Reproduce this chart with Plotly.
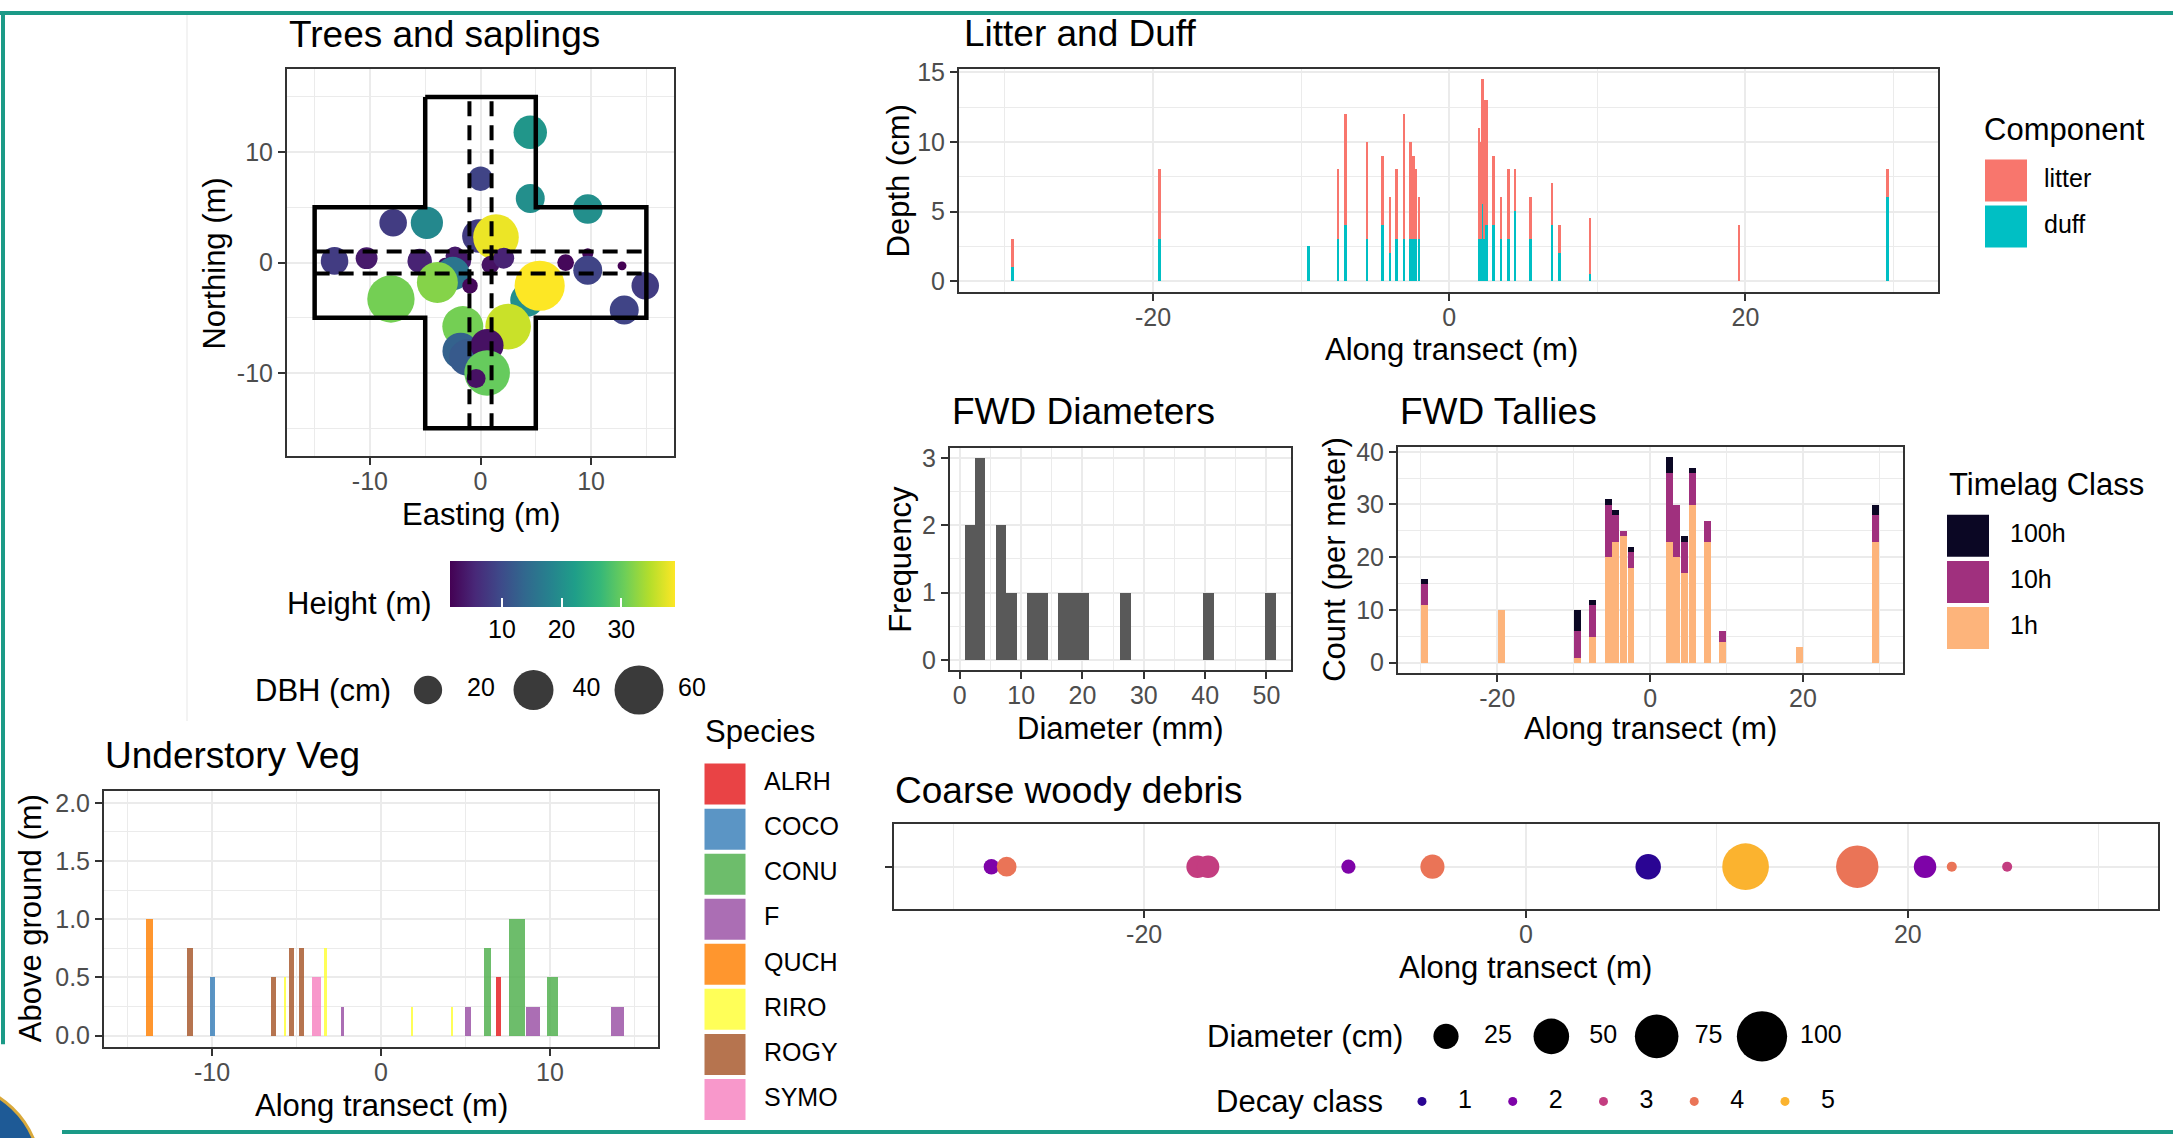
import plotly.graph_objects as go

W, H = 2173, 1138
# measured vertical mapping of the photographed page: screen_y = YS * fig_y + YO
YS, YO = 0.9858, 10.7
FONT = "Liberation Sans, Arial, Helvetica, sans-serif"
TICKC, GRIDC, BORDC = "#4D4D4D", "#EBEBEB", "#333333"
TEAL = "#1B9A87"
TS, AS, KS = 37, 31, 25  # title, axis-title, tick/legend-label font sizes

# ---------------- data: Trees and saplings ----------------
tree_east = [4.5, 0.0, 4.5, 9.7, -7.9, -4.85, -0.15, 1.4, -13.2, -10.3, -5.5, -2.3,
             -1.7, -3.2, 0.9, 2.1, -2.5, -3.9, -8.1, -0.95, 4.2, 5.35, 7.7, 9.7,
             9.7, 12.8, 14.9, 13.0, 2.5, -1.6, -1.8, -1.2, 0.6, 0.6, -0.4]
tree_north = [11.8, 7.6, 5.8, 4.85, 3.6, 3.6, 2.4, 2.3, 0.15, 0.4, 0.15, 0.6,
              0.15, -0.2, -0.2, 0.4, -1.0, -1.8, -3.3, -2.1, -3.4, -2.1, 0.0, 0.8,
              -0.7, -0.3, -2.1, -4.3, -5.8, -5.8, -8.0, -8.6, -7.5, -10.0, -10.5]
tree_height = [21, 9, 20, 20, 8, 19, 8, 38, 8, 4, 5, 4,
               4, 3, 3, 5, 16, 32, 31, 2, 20, 39, 2, 2,
               9, 1.3, 8, 9, 36, 31, 13, 12, 3, 30, 3]
tree_dbh = [28, 15, 21, 22, 19, 26, 28, 52, 19, 12, 15, 9,
            9, 5, 8, 11, 28, 42, 56, 6, 28, 63, 7, 3,
            21, 2, 19, 21, 52, 42, 33, 33, 27, 52, 9]
plot_outline_e = [-5, 5, 5, 15, 15, 5, 5, -5, -5, -15, -15, -5, -5]
plot_outline_n = [15, 15, 5, 5, -5, -5, -15, -15, -5, -5, 5, 5, 15]
strip_offsets = [-1, 1]
strip_extent = [-15, 15]
dbh_legend = [20, 40, 60]
height_ticks = [10, 20, 30]

# ---------------- data: Litter and duff ----------------
ld_pos = [-29.5, -19.55, -9.5, -7.5, -7.0, -5.55, -4.5, -4.0, -3.55, -3.05, -2.6, -2.4,
          -2.25, -2.05, 2.0, 2.1, 2.25, 2.35, 2.5, 3.0, 3.5, 4.0, 4.45, 5.5, 6.95,
          7.45, 9.5, 19.55, 29.6]
duff_depth = [1, 3, 2.5, 3, 4, 3, 4, 2, 3, 3, 3, 3,
              3, 3, 3, 3, 5.5, 3, 4, 4, 3, 3, 5, 3, 4,
              2, 0.5, 0, 6]
litter_depth = [2, 5, 0, 5, 8, 7, 5, 4, 5, 9, 7, 6,
                5, 3, 8, 7, 9, 10, 9, 5, 3, 5, 3, 3, 3,
                2, 4, 4, 2]
components = ["litter", "duff"]
component_colors = ["#F8766D", "#00BFC4"]

# ---------------- data: FWD ----------------
fwd_diam_mm = [1.65, 2.0, 3.0, 3.2, 4.0, 6.0, 7.0, 8.0, 12.0, 13.5, 17.0, 18.5,
               20.0, 27.0, 40.5, 50.67]
fwd_pos = [-29.5, -19.5, -9.5, -7.5, -5.5, -4.5, -3.5, -2.5, 2.5, 3.5, 4.5, 5.5,
           7.5, 9.5, 19.5, 29.5]
fwd_1h = [11, 10, 1, 5, 20, 23, 24, 18, 23, 20, 17, 30, 23, 4, 3, 23]
fwd_10h = [4, 0, 5, 6, 10, 5, 1, 3, 13, 10, 6, 6, 4, 2, 0, 5]
fwd_100h = [1, 0, 4, 1, 1, 1, 0, 1, 3, 0, 1, 1, 0, 0, 0, 2]
timelag_classes = ["100h", "10h", "1h"]
timelag_colors = ["#0B0724", "#A0307E", "#FDB47B"]

# ---------------- data: Understory veg ----------------
veg_pos = [-13.7, -11.3, -10.0, -6.35, -5.7, -5.3, -4.7, -3.8, -3.3, -2.3, 1.85,
           4.2, 5.15, 6.3, 6.95, 8.05, 9.0, 10.15, 14.0]
veg_height = [1.0, 0.75, 0.5, 0.5, 0.5, 0.75, 0.75, 0.5, 0.75, 0.25, 0.25,
              0.25, 0.25, 0.75, 0.5, 1.0, 0.25, 0.5, 0.25]
veg_species = ["QUCH", "ROGY", "COCO", "ROGY", "RIRO", "ROGY", "ROGY", "SYMO", "RIRO",
               "F", "RIRO", "RIRO", "F", "CONU", "ALRH", "CONU", "F", "CONU", "F"]
veg_bar_width = [0.42, 0.35, 0.3, 0.3, 0.12, 0.3, 0.28, 0.53, 0.2, 0.18, 0.1,
                 0.1, 0.3, 0.4, 0.3, 0.9, 0.85, 0.7, 0.8]
species = ["ALRH", "COCO", "CONU", "F", "QUCH", "RIRO", "ROGY", "SYMO"]
species_colors = ["#E41A1C", "#377EB8", "#4DAF4A", "#984EA3", "#FF7F00", "#FFFF33",
                  "#A65628", "#F781BF"]

# ---------------- data: Coarse woody debris ----------------
cwd_pos = [-28.0, -27.2, -17.2, -16.65, -9.3, -4.9, 6.4, 11.5, 17.35, 20.9, 22.3, 25.2]
cwd_diam = [9.5, 15.5, 20, 20, 8, 23, 25.6, 86, 71, 20, 4, 4]
cwd_decay = [2, 4, 3, 3, 2, 4, 1, 5, 4, 2, 4, 3]
cwd_diam_legend = [25, 50, 75, 100]
decay_classes = [1, 2, 3, 4, 5]
decay_colors = ["#2A0593", "#7E03A8", "#C33D80", "#EA7457", "#FBB32F"]

TREE_SREF = 0.05
CWD_SREF = 0.079


def fx(p):
    return p / W


def fy(p):
    return min(1.0, max(0.0, 1 - ((p - YO) / YS) / H))


def hy(v):
    return "%g" % v   # ASCII hyphen for negatives, like ggplot


fig = go.Figure()
layout = {}


def sfx(n):
    return "" if n == 1 else str(n)


def panel(n, xpx, ypx, xr, yr, xt, yt, xminor, yminor, yfmt=None, ycat=False):
    common = dict(showline=True, mirror=True, linecolor=BORDC, linewidth=2,
                  ticks="outside", ticklen=7, tickwidth=2, tickcolor=BORDC,
                  tickfont=dict(family=FONT, size=KS, color=TICKC),
                  showgrid=True, gridcolor=GRIDC, gridwidth=2, zeroline=False,
                  fixedrange=True)
    xa = dict(common, domain=[fx(xpx[0]), fx(xpx[1])], range=xr, anchor="y" + sfx(n),
              tickmode="array", tickvals=xt, ticktext=[hy(v) for v in xt],
              ticklabelstandoff=-5,
              minor=dict(tickmode="array", tickvals=xminor, showgrid=True,
                         gridcolor=GRIDC, gridwidth=1, ticks=""))
    ya = dict(common, domain=[fy(ypx[1]), fy(ypx[0])], range=yr, anchor="x" + sfx(n))
    if ycat:
        ya.update(type="category", tickmode="array", tickvals=yt, ticktext=[""] * len(yt))
    else:
        fmt = yfmt or hy
        ya.update(tickmode="array", tickvals=yt, ticktext=[fmt(v) for v in yt],
                  minor=dict(tickmode="array", tickvals=yminor, showgrid=True,
                             gridcolor=GRIDC, gridwidth=1, ticks=""))
    layout["xaxis" + sfx(n)] = xa
    layout["yaxis" + sfx(n)] = ya


def hidden(n, xpx, ypx, xr, yr):
    layout["xaxis" + sfx(n)] = dict(domain=[fx(xpx[0]), fx(xpx[1])], range=xr,
                                    anchor="y" + sfx(n), visible=False, fixedrange=True)
    layout["yaxis" + sfx(n)] = dict(domain=[fy(ypx[1]), fy(ypx[0])], range=yr,
                                    anchor="x" + sfx(n), visible=False, fixedrange=True)


# ---- panels ----
panel(1, (287, 674), (69, 455), [-17.5, 17.5], [-17.5, 17.5], [-10, 0, 10], [-10, 0, 10],
      [-15, -5, 5, 15], [-15, -5, 5, 15])
panel(2, (959, 1938), (69, 291), [-33.1, 33.0], [-0.725, 15.2], [-20, 0, 20], [0, 5, 10, 15],
      [-30, -10, 10, 30], [2.5, 7.5, 12.5])
panel(3, (950, 1291), (447, 669), [-1.6, 54.0], [-0.15, 3.15], [0, 10, 20, 30, 40, 50],
      [0, 1, 2, 3], [5, 15, 25, 35, 45], [0.5, 1.5, 2.5])
panel(4, (1398, 1903), (446, 672), [-33.0, 33.1], [-1.95, 40.95], [-20, 0, 20],
      [0, 10, 20, 30, 40], [-30, -10, 10, 30], [5, 15, 25, 35])
panel(5, (104, 658), (790, 1046), [-16.4, 16.4], [-0.1, 2.1], [-10, 0, 10],
      [0, 0.5, 1, 1.5, 2], [-15, -5, 5, 15], [0.25, 0.75, 1.25, 1.75],
      yfmt=lambda v: "%.1f" % v)
panel(6, (894, 2158), (823, 908), [-33.1, 33.1], [-0.6, 0.6], [-20, 0, 20], ["cwd"],
      [-30, -10, 10, 30], None, ycat=True)

# ---- Trees and saplings ----
fig.add_trace(go.Scatter(
    x=tree_east, y=tree_north, mode="markers", xaxis="x", yaxis="y", showlegend=False,
    marker=dict(color=tree_height, colorscale="Viridis", cmin=min(tree_height),
                cmax=max(tree_height), size=tree_dbh, sizemode="area", sizeref=TREE_SREF,
                line=dict(width=0), opacity=1, showscale=True,
                colorbar=dict(orientation="h", x=fx(562.5), xanchor="center",
                              y=fy(560), yanchor="top", len=225, lenmode="pixels",
                              thickness=46, thicknessmode="pixels", outlinewidth=0,
                              tickvals=height_ticks, ticks="inside", ticklen=9,
                              tickcolor="white", tickwidth=1.5, xpad=0, ypad=0,
                              tickfont=dict(family=FONT, size=KS, color="black")))))
fig.add_trace(go.Scatter(x=plot_outline_e, y=plot_outline_n, mode="lines", xaxis="x",
                         yaxis="y", showlegend=False, line=dict(color="black", width=4.5)))
for off in strip_offsets:
    fig.add_trace(go.Scatter(x=[off, off], y=strip_extent, mode="lines", xaxis="x", yaxis="y",
                             showlegend=False,
                             line=dict(color="black", width=4, dash="15px,9px")))
    fig.add_trace(go.Scatter(x=strip_extent, y=[off, off], mode="lines", xaxis="x", yaxis="y",
                             showlegend=False,
                             line=dict(color="black", width=4, dash="15px,9px")))

# ---- Litter and duff ----
fig.add_trace(go.Bar(x=ld_pos, y=duff_depth, width=0.17, xaxis="x2", yaxis="y2",
                     marker=dict(color=component_colors[1], line=dict(width=0)),
                     showlegend=False))
fig.add_trace(go.Bar(x=ld_pos, y=litter_depth, width=0.17, xaxis="x2", yaxis="y2",
                     marker=dict(color=component_colors[0], line=dict(width=0)),
                     showlegend=False))

# ---- FWD diameters histogram (ggplot bins=30 rule) ----
bw = (max(fwd_diam_mm) - min(fwd_diam_mm)) / 29
fig.add_trace(go.Histogram(x=fwd_diam_mm, xaxis="x3", yaxis="y3", showlegend=False,
                           xbins=dict(start=min(fwd_diam_mm) - bw / 2,
                                      end=max(fwd_diam_mm) + bw / 2, size=bw),
                           marker=dict(color="#595959", line=dict(width=0))))

# ---- FWD tallies ----
for vals, col in [(fwd_1h, timelag_colors[2]), (fwd_10h, timelag_colors[1]),
                  (fwd_100h, timelag_colors[0])]:
    fig.add_trace(go.Bar(x=fwd_pos, y=vals, width=0.9, xaxis="x4", yaxis="y4",
                         marker=dict(color=col, line=dict(width=0)), showlegend=False))

# ---- Understory veg ----
for sp, col in zip(species, species_colors):
    idx = [i for i, s in enumerate(veg_species) if s == sp]
    fig.add_trace(go.Bar(x=[veg_pos[i] for i in idx], y=[veg_height[i] for i in idx],
                         width=[veg_bar_width[i] for i in idx], xaxis="x5", yaxis="y5",
                         marker=dict(color=col, opacity=0.82, line=dict(width=0)),
                         showlegend=False))

# ---- Coarse woody debris ----
fig.add_trace(go.Scatter(
    x=cwd_pos, y=["cwd"] * len(cwd_pos), mode="markers", xaxis="x6", yaxis="y6",
    showlegend=False,
    marker=dict(size=cwd_diam, sizemode="area", sizeref=CWD_SREF, opacity=1,
                color=[decay_colors[decay_classes.index(d)] for d in cwd_decay],
                line=dict(width=0))))


# ---- vertical key legends ----
def vlegend(n, key_x, label_x, top_y, bot_y, labels, colors, size, opacity=1.0):
    hidden(n, (key_x, label_x), (top_y, bot_y), [0, 1], [len(labels) - 1, 0])
    layout["yaxis" + sfx(n)]["type"] = "category"
    fig.add_trace(go.Scatter(x=[0] * len(labels), y=labels, mode="markers",
                             xaxis="x" + sfx(n), yaxis="y" + sfx(n), showlegend=False,
                             cliponaxis=False,
                             marker=dict(symbol="square", size=size, color=colors,
                                         opacity=opacity, line=dict(width=0))))
    fig.add_trace(go.Scatter(x=[1] * len(labels), y=labels, mode="text", text=labels,
                             textposition="middle right", xaxis="x" + sfx(n),
                             yaxis="y" + sfx(n), showlegend=False, cliponaxis=False,
                             textfont=dict(family=FONT, size=KS, color="black")))


vlegend(7, 2006, 2044, 180, 226, components, component_colors, 42)
vlegend(8, 1968, 2010, 535, 627, timelag_classes, timelag_colors, 42)
vlegend(9, 725, 764, 783, 1098, species, species_colors, 41, 0.82)


# ---- horizontal key legends ----
def hlegend(n, first_x, spacing, cy, labels, marker, label_off):
    k = len(labels)
    span = k - 1 + 0.75
    hidden(n, (first_x, first_x + span * spacing), (cy - 20, cy + 20), [0, span], [-1, 1])
    fig.add_trace(go.Scatter(x=list(range(k)), y=[0] * k, mode="markers",
                             xaxis="x" + sfx(n), yaxis="y" + sfx(n), showlegend=False,
                             cliponaxis=False, marker=marker))
    fig.add_trace(go.Scatter(x=[i + label_off / spacing for i in range(k)], y=[0] * k,
                             mode="text", text=[str(v) for v in labels],
                             textposition="middle right", xaxis="x" + sfx(n),
                             yaxis="y" + sfx(n), showlegend=False, cliponaxis=False,
                             textfont=dict(family=FONT, size=KS, color="black")))


hlegend(10, 428, 105.5, 689, dbh_legend,
        dict(size=dbh_legend, sizemode="area", sizeref=TREE_SREF, color="#3A3A3A",
             opacity=1, line=dict(width=0)), 39)
hlegend(11, 1446, 105.33, 1035, cwd_diam_legend,
        dict(size=cwd_diam_legend, sizemode="area", sizeref=CWD_SREF, color="black",
             opacity=1, line=dict(width=0)), 38)
hlegend(12, 1422, 90.75, 1100, decay_classes,
        dict(size=9, color=decay_colors, opacity=1, line=dict(width=0)), 36)


# ---- text annotations ----
def txt(text, x, y, size, xanchor="left", angle=0, color="black"):
    return dict(text=text, x=fx(x), y=fy(y), xref="paper", yref="paper", xanchor=xanchor,
                yanchor="middle", showarrow=False, textangle=angle,
                font=dict(family=FONT, size=size, color=color))


annotations = [
    txt("Trees and saplings", 287, 34, TS),
    txt("Litter and Duff", 962, 33, TS),
    txt("FWD Diameters", 950, 411, TS),
    txt("FWD Tallies", 1398, 411, TS),
    txt("Understory Veg", 103, 754, TS),
    txt("Coarse woody debris", 893, 789, TS),
    txt("Easting (m)", 481, 514, AS, "center"),
    txt("Northing (m)", 215, 263, AS, "center", -90),
    txt("Along transect (m)", 1451, 349, AS, "center"),
    txt("Depth (cm)", 898, 180, AS, "center", -90),
    txt("Diameter (mm)", 1120, 727, AS, "center"),
    txt("Frequency", 901, 559, AS, "center", -90),
    txt("Along transect (m)", 1650, 727, AS, "center"),
    txt("Count (per meter)", 1335, 559, AS, "center", -90),
    txt("Along transect (m)", 381, 1104, AS, "center"),
    txt("Above ground (m)", 30, 917, AS, "center", -90),
    txt("Along transect (m)", 1525, 966, AS, "center"),
    txt("Height (m)", 434, 603, AS, "right"),
    txt("DBH (cm)", 393, 689, AS, "right"),
    txt("Component", 1982, 129, AS),
    txt("Timelag Class", 1947, 484, AS),
    txt("Species", 703, 730, AS),
    txt("Diameter (cm)", 1405, 1035, AS, "right"),
    txt("Decay class", 1385, 1100, AS, "right"),
]

TOP_EDGE = 1 - 2 / H
BOT_EDGE = 2 / H
shapes = [
    dict(type="line", xref="paper", yref="paper", x0=fx(187), x1=fx(187), y0=TOP_EDGE,
         y1=fy(720), line=dict(color="#F3F3F3", width=2)),
    dict(type="line", xref="paper", yref="paper", x0=0, x1=1, y0=TOP_EDGE, y1=TOP_EDGE,
         line=dict(color=TEAL, width=4)),
    dict(type="line", xref="paper", yref="paper", x0=fx(3), x1=fx(3), y0=TOP_EDGE,
         y1=fy(1043), line=dict(color=TEAL, width=4)),
    dict(type="line", xref="paper", yref="paper", x0=fx(62), x1=1, y0=BOT_EDGE, y1=BOT_EDGE,
         line=dict(color=TEAL, width=4)),
    dict(type="circle", xref="paper", yref="paper", x0=fx(-150), x1=fx(40),
         y0=-130 / H, y1=1 - ((1080 - YO) / YS) / H,
         fillcolor="#1E5A96", line=dict(color="#D9A93B", width=3)),
]

fig.update_layout(
    width=W, height=H, margin=dict(l=0, r=0, t=0, b=0),
    paper_bgcolor="white", plot_bgcolor="white",
    barmode="stack", bargap=0, showlegend=False,
    font=dict(family=FONT, color="black"),
    annotations=annotations, shapes=shapes,
    **layout,
)

fig.write_html("out.html")
